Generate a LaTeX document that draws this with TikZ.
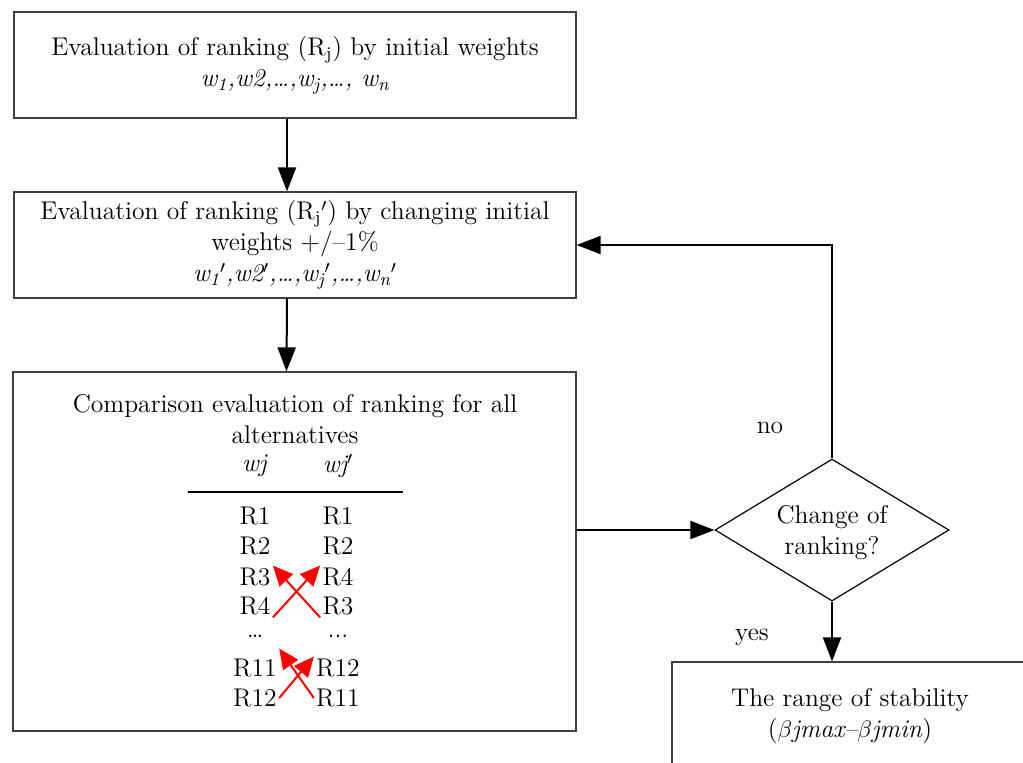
\documentclass[tikz,border=0pt]{standalone}
\usetikzlibrary{arrows.meta,shapes.geometric,positioning}
\tikzstyle{flowbox}=[draw=black!75,line width=0.6pt,inner sep=0,align=center]
\tikzstyle{flowarrow}=[-{Triangle[length=12pt,width=9pt]},line width=1pt]
\tikzstyle{swaparrow}=[-{Triangle[length=10pt,width=9pt]},line width=1pt,red]
\tikzstyle{every node}=[font=\fontsize{12.8}{15.5}\selectfont,inner sep=1pt]
\newcommand{\flowbox}[5]{\node[flowbox, minimum width=#3, minimum height=#4] (#1) at (#2) {#5};}
\newcommand{\rankrow}[4]{
\node (l#1) at (255,#2) {#3};
\node (r#1) at (338,#2) {#4};
}

\begin{document}
\begin{tikzpicture}[x=0.5pt,y=-0.5pt]
\useasboundingbox (0,0) rectangle (1023,762);
\flowbox{init}{295,65}{281pt}{53pt}{Evaluation of ranking (R\textsubscript{j}) by initial weights\\ \textit{w\textsubscript{1},w2,\ldots,w\textsubscript{j},\ldots, w\textsubscript{n}}}
\flowbox{adj}{295,245}{281pt}{53pt}{Evaluation of ranking (R\textsubscript{j}$'$) by changing initial\\ weights +/--1\%\\ \textit{w\textsubscript{1}$'$,w2$'$,\ldots,w\textsubscript{j}$'$,\ldots,w\textsubscript{n}$'$}}
\flowbox{cmp}{294.5,551.5}{281.5pt}{179.5pt}{}
\flowbox{range}{850,716}{178pt}{54pt}{The range of stability\\ (\textit{$\beta$jmax--$\beta$jmin})}
\node[diamond,draw,line width=0.6pt,inner sep=0,minimum width=117pt,minimum height=71pt] (diam) at (832,530) {};
\node[align=center] (diamtext) at (832,533) {Change of\\ ranking?};

% comparison table
\node[align=center] (cmptitle) at (295,419) {Comparison evaluation of ranking for all\\ alternatives};
\node (hl) at (255,466) {\textit{wj}};
\node (hr) at (338,466) {\textit{wj\textsuperscript{$\prime$}}};
\draw[line width=0.6pt] (188,492) -- (403,492);
\rankrow{1}{516}{R1}{R1}
\rankrow{2}{546}{R2}{R2}
\rankrow{3}{577}{R3}{R4}
\rankrow{4}{606}{R4}{R3}
\rankrow{d}{636}{\ldots}{...}
\rankrow{11}{668}{R11}{R12}
\rankrow{12}{698}{R12}{R11}
\draw[swaparrow] (l4.south east) -- (r3.north west);
\draw[swaparrow] (r4.south west) -- (l3.north east);
\draw[swaparrow] (l12.east) -- (r11.north west);
\draw[swaparrow] (r12.west) -- ([yshift=4pt]l11.north east);

\draw[flowarrow] ([xshift=-4pt]init.south) -- ([xshift=-4pt]adj.north);
\draw[flowarrow] ([xshift=-4pt]adj.south) -- ([xshift=-4pt]cmp.north);
\draw[flowarrow] (cmp.east |- diam.west) -- (diam.west);
\draw[flowarrow] (diam.north) |- (adj.east);
\draw[flowarrow] (diam.south) -- (diam.south |- range.north);
\node (no) at (770,428) {no};
\node (yes) at (752,637) {yes};
\end{tikzpicture}
\end{document}
